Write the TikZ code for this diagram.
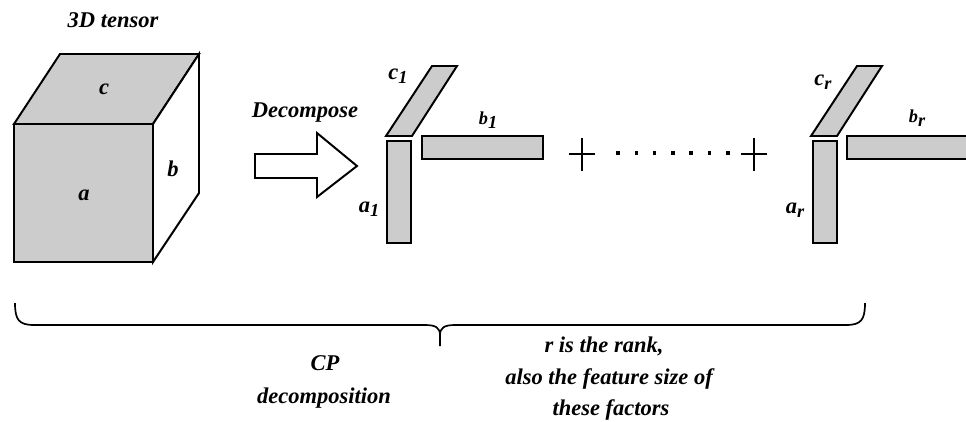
\documentclass[tikz,border=0pt]{standalone}
\usepackage{fontspec}
\setmainfont{Liberation Serif}
\usepackage{xcolor}
\definecolor{boxgray}{RGB}{204,204,204}
\newcommand{\lowidx}[1]{\raisebox{-0.4ex}{\fontsize{13}{13}\selectfont #1}}

\begin{document}
\begin{tikzpicture}[x=0.025cm, y=-0.025cm,
  edge/.style={line width=1.4pt, line join=miter},
  slab/.style={edge, fill=boxgray},
  lbl/.style={font=\fontsize{16}{19}\selectfont\bfseries\itshape, inner sep=0pt},
  smalllbl/.style={font=\fontsize{13}{15}\selectfont\bfseries\itshape, inner sep=0pt}]

\useasboundingbox (0,0) rectangle (966,421);

% tensor
\coordinate (F1) at (14,124);
\coordinate (F2) at (153,124);
\coordinate (F3) at (153,262);
\coordinate (F4) at (14,262);
\coordinate (B1) at (60,54);
\coordinate (B2) at (199,54);
\coordinate (B3) at (199,193);

\draw[slab] (F1) rectangle (F3);
\draw[slab] (F1) -- (B1) -- (B2) -- (F2) -- cycle;
\draw[edge, fill=white] (F2) -- (B2) -- (B3) -- (F3) -- cycle;

\node[lbl] (title) at (113,20) {3D tensor};
\node[lbl] (ta) at (84,195) {a};
\node[lbl] (tb) at (173,169) {b};
\node[lbl] (tc) at (104,89) {c};

% arrow
\draw[edge, fill=white] (255,154) -- (317,154) -- (317,133) -- (357,166)
  -- (317,197) -- (317,178) -- (255,178) -- cycle;
\node[lbl] (dec) at (305,113) {Decompose};

% first factor
\draw[slab] (386,136) -- (412,136) -- (457,66) -- (432,66) -- cycle;
\draw[slab] (387,141) rectangle (411,243);
\draw[slab] (422,136) rectangle (543,159);
\node[lbl] (c1) at (398,76) {c\lowidx{1}};
\node[smalllbl] (b1) at (488,120) {b\lowidx{1}};
\node[lbl] (a1) at (369,209) {a\lowidx{1}};

% plus ... plus
\foreach \px in {582,754}
  \draw[line width=1pt] (\px-13,154) -- (\px+13,154) (\px,138) -- (\px,171);
\foreach \i in {0,...,6}
  \fill (618+\i*18.3-1.8,153-1.8) rectangle ++(3.6,3.6);

% last factor
\draw[slab] (811,136) -- (837,136) -- (882,66) -- (857,66) -- cycle;
\draw[slab] (813,141) rectangle (837,243);
\fill[boxgray] (847,136) rectangle (966,159);
\draw[edge] (966,136) -| (847,159) -- (966,159);
\node[lbl] (cr) at (823,82) {c\lowidx{r}};
\node[smalllbl] (br) at (917,118) {b\lowidx{r}};
\node[lbl] (ar) at (795,210) {a\lowidx{r}};

% brace
\draw[line width=1.2pt] (15,303) .. controls (15,320) and (19,325) .. (34,325)
  -- (425,325) .. controls (436,325) and (440,328) .. (440,335) -- (440,346)
  (440,335) .. controls (440,328) and (444,325) .. (455,325)
  -- (846,325) .. controls (861,325) and (865,320) .. (865,303);

\node[lbl] (cp) at (325,363) {CP};
\node[lbl] (cpd) at (324,398) {decomposition};
\node[lbl] (r1) at (604,346) {r is the rank,};
\node[lbl] (r2) at (609,379) {also the feature size of};
\node[lbl] (r3) at (611,410) {these factors};

\end{tikzpicture}
\end{document}
